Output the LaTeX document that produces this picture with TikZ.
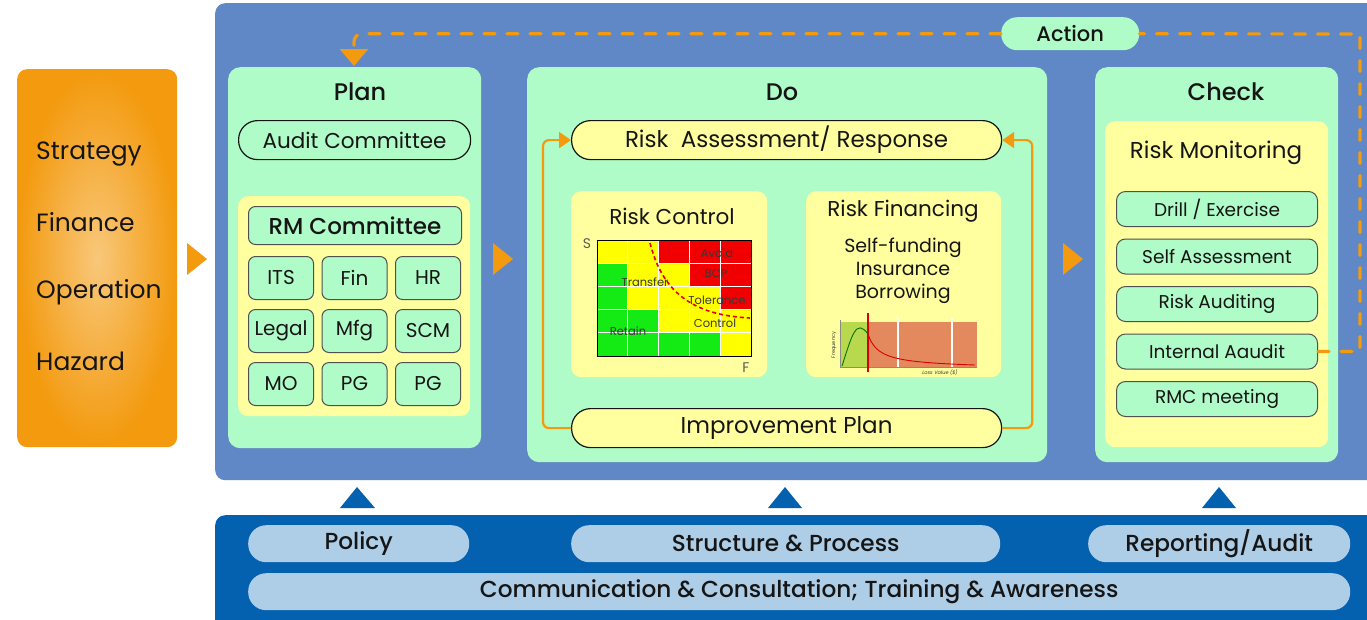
\documentclass[tikz,border=0pt]{standalone}
\usepackage{fontspec}
\setmainfont{Poppins}
\IfFontExistsTF{Poppins Medium}
    {\newfontfamily\mediumfont{Poppins Medium}}
    {\newcommand\mediumfont{\bfseries}}
\usetikzlibrary{arrows.meta}

\definecolor{panelblue}{HTML}{6088C6}
\definecolor{deepblue}{HTML}{0361AF}
\definecolor{mint}{HTML}{B0FCC8}
\definecolor{pale}{HTML}{FFFF9F}
\definecolor{flow}{HTML}{F39A0E}
\definecolor{pill}{HTML}{AECDE6}
\definecolor{ink}{HTML}{151515}
\definecolor{celly}{HTML}{FFFF00}
\definecolor{cellr}{HTML}{F00000}
\definecolor{cellg}{HTML}{14EB14}
\definecolor{lossgreen}{HTML}{B8D84E}
\definecolor{losstail}{HTML}{E4895E}

\begin{document}
\begin{tikzpicture}[x=1pt,y=-1pt,text=ink]
    \tikzstyle{box} = [inner sep=0pt,anchor=north west,rounded corners=12pt]
    \tikzstyle{stage} = [box,fill=mint]
    \tikzstyle{tray} = [box,fill=pale,rounded corners=10pt]
    \tikzstyle{head} = [font=\mediumfont\fontsize{24}{28}\selectfont]
    \tikzstyle{title} = [font=\fontsize{21.5}{25}\selectfont]
    \tikzstyle{oval} = [box,draw=ink,line width=1.2pt,rounded corners=19pt,
                        minimum width=430,minimum height=39,
                        font=\fontsize{23}{27}\selectfont]
    \tikzstyle{unit} = [box,draw=ink!75,line width=1pt,fill=mint,rounded corners=7pt,
                        minimum width=65,minimum height=43,
                        font=\fontsize{20}{24}\selectfont]
    \tikzstyle{task} = [unit,minimum width=201,minimum height=35,rounded corners=9pt,
                        font=\fontsize{18.5}{22}\selectfont]
    \tikzstyle{pillbox} = [box,fill=pill,rounded corners=18pt,minimum height=37,
                           font=\mediumfont\fontsize{23.2}{27}\selectfont]
    \tikzstyle{risk} = [anchor=west,inner sep=0pt,font=\fontsize{25}{29}\selectfont]
    \tikzstyle{zone} = [inner sep=0pt,text=ink!85,font=\fontsize{11.5}{13}\selectfont]
    \tikzstyle{loopline} = [draw=flow,line width=2.2pt,rounded corners=6pt,
                            -{Triangle[length=12pt,width=16pt]}]
    \tikzstyle{actionline} = [draw=flow,line width=3.2pt,line cap=round,
                              dash pattern=on 11pt off 12pt]

    \useasboundingbox (0,0) rectangle (1367,619);
    \fill[white] (0,0) rectangle (1367,619);

    % risk categories
    \node[box,rounded corners=10pt,shading=radial,inner color=flow!55!white,
          outer color=flow,minimum width=160,minimum height=378] (risks) at (17,69) {};
    \node[risk] (strategy) at (36,154) {Strategy};
    \node[risk] (finance) at (36,222) {Finance};
    \node[risk] (operation) at (36,292) {Operation};
    \node[risk] (hazard) at (36,361) {Hazard};

    % PDCA board
    \node[box,fill=panelblue,rounded corners=10pt,minimum width=1175,minimum height=477]
        (board) at (215,3) {};
    \fill[flow] (187,243) -- (207,259) -- (187,275) -- cycle;
    \fill[flow] (493,243) -- (513,259) -- (493,275) -- cycle;
    \fill[flow] (1063,243) -- (1083,259) -- (1063,275) -- cycle;

    % Plan
    \node[stage,minimum width=253,minimum height=381] (plan) at (228,67) {};
    \node[head] (planhd) at (360,92) {Plan};
    \node[oval,minimum width=232,font=\fontsize{21.5}{25}\selectfont]
        (audit) at (238,120) {Audit Committee};
    \node[tray,minimum width=232,minimum height=220] (rmtray) at (238,196) {};
    \node[unit,minimum width=213,minimum height=38,
          font=\mediumfont\fontsize{23}{27}\selectfont] (rmc) at (248,206) {RM Committee};
    \foreach \lbl [count=\k from 0] in {ITS,Fin,HR,Legal,Mfg,SCM,MO,PG,PG} {
        \pgfmathsetmacro\cx{248+73.5*mod(\k,3)}
        \pgfmathsetmacro\ry{256+53*floor(\k/3)}
        \node[unit] (dept\k) at (\cx,\ry) {\lbl};
    }

    % Do
    \node[stage,minimum width=520,minimum height=395] (do) at (527,67) {};
    \node[head] (dohd) at (782,92) {Do};
    \node[oval,fill=pale] (assess) at (571,120) {Risk\ \ Assessment/ Response};
    \node[oval,fill=pale] (improve) at (571,408) {Improvement Plan};
    \draw[loopline] (improve.west) -- ++(-28,0) |- (assess.west);
    \draw[loopline] (improve.east) -- ++(30,0) |- (assess.east);

    \node[tray,minimum width=196,minimum height=186] (control) at (571,191) {};
    \node[title] (controlhd) at (672,216) {Risk Control};
    % heat map, rows from top
    \foreach \cells [count=\r from 0] in {{y,y,r,r,r},{g,y,y,r,r},{g,y,y,y,r},
                                         {g,g,y,y,y},{g,g,g,g,y}}
        \foreach \c [count=\k from 0] in \cells
            \fill[cell\c] (597+30.8*\k,240+23.2*\r) rectangle ++(30.8,23.2);
    \foreach \k in {1,...,4} {
        \draw[white,line width=1pt] (597+30.8*\k,240) -- ++(0,116);
        \draw[white,line width=1pt] (597,240+23.2*\k) -- ++(154,0);
    }
    \node[box,draw=black,line width=1.2pt,rounded corners=0pt,
          minimum width=154,minimum height=116] (heat) at (597,240) {};
    \draw[red!90!black,line width=1.6pt,dash pattern=on 4pt off 3pt]
        (650,243) .. controls (662,290) and (690,315) .. (750,318);
    \node[zone] (avoid) at (717,253) {Avoid};
    \node[zone] (bcp) at (716,273) {BCP};
    \node[zone] (transfer) at (645,282) {Transfer};
    \node[zone] (tolerance) at (717,300) {Tolerance};
    \node[zone] (ctrl) at (715,323) {Control};
    \node[zone] (retain) at (628,331) {Retain};
    \node[zone,text=ink!70,font=\fontsize{14}{16}\selectfont] (sev) at (587,244) {S};
    \node[zone,text=ink!70,font=\fontsize{14}{16}\selectfont] (freq) at (746,368) {F};

    \node[tray,minimum width=195,minimum height=186] (financing) at (806,191) {};
    \node[title] (financehd) at (903,211) {Risk Financing};
    \node[title,align=center,font=\fontsize{19}{23}\selectfont]
        (options) at (903,271) {Self-funding\\Insurance\\Borrowing};
    % loss distribution sketch
    \fill[lossgreen] (840,322) rectangle (868,367);
    \fill[losstail] (868,322) rectangle (977,367);
    \draw[white,line width=2pt] (898,318) -- (898,367) (952,318) -- (952,367);
    \draw[ink!50,line width=.6pt] (840,320) -- (840,367) -- (977,367);
    \draw[green!45!black,line width=.9pt] (842,366) .. controls (852,335) and (856,318) .. (868,334);
    \draw[red!85!black,line width=.9pt] (868,334) .. controls (876,358) and (892,362) .. (975,365);
    \draw[red!85!black,line width=1.6pt] (868,313) -- (868,372);
    \node[zone,rotate=90,font=\fontsize{5}{6}\selectfont] (freqax) at (834,345) {Frequency};
    \node[zone,font=\fontsize{5}{6}\selectfont\itshape] (lossax) at (940,373) {Loss Value (\$)};

    % Check
    \node[stage,minimum width=243,minimum height=395] (check) at (1095,67) {};
    \node[head] (checkhd) at (1226,92) {Check};
    \node[tray,minimum width=223,minimum height=326] (monitor) at (1105,121) {};
    \node[title,font=\fontsize{23}{27}\selectfont] (monitorhd) at (1216,153) {Risk Monitoring};
    \foreach \lbl [count=\k from 0] in {Drill / Exercise,Self Assessment,Risk Auditing,
                                        Internal Aaudit,RMC meeting}
        \node[task] (task\k) at (1116,191+47.5*\k) {\lbl};

    % Act: back to Plan
    \node[pillbox,fill=mint,minimum width=138,minimum height=33,rounded corners=16pt,
          font=\mediumfont\fontsize{21}{25}\selectfont] (action) at (1001,17) {Action};
    \coordinate (ret) at (1360,34);
    \coordinate (planin) at (354,66);
    \draw[actionline] (task3.east) -| (ret) -- (action.east);
    \draw[actionline,rounded corners=8pt,-{Triangle[length=17pt,width=28pt]}]
        (action.west) -| (planin);

    % foundation
    \fill[deepblue] (340,508) -- (357,487) -- (375,508) -- cycle;
    \fill[deepblue] (768,508) -- (785,487) -- (802,508) -- cycle;
    \fill[deepblue] (1202,508) -- (1219,487) -- (1236,508) -- cycle;
    \node[box,fill=deepblue,rounded corners=10pt,minimum width=1175,minimum height=130]
        (base) at (215,515) {};
    \node[pillbox,minimum width=221] (policy) at (248,525) {Policy};
    \node[pillbox,minimum width=429] (structure) at (571,525) {Structure \& Process};
    \node[pillbox,minimum width=262] (reporting) at (1088,525) {Reporting/Audit};
    \node[pillbox,minimum width=1102] (comms) at (248,573)
        {Communication \& Consultation; Training \& Awareness};
\end{tikzpicture}
\end{document}
